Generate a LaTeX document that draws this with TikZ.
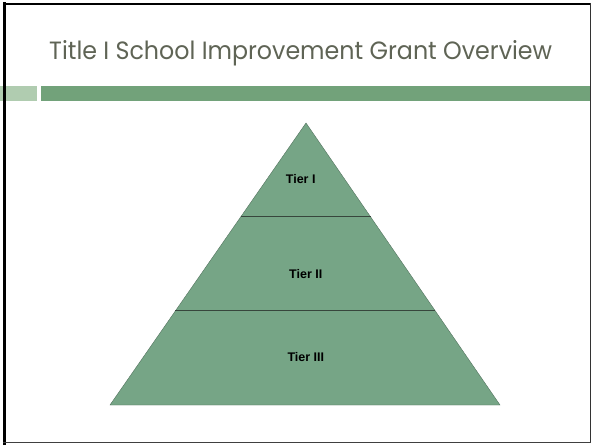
\documentclass[tikz,border=0pt]{standalone}
\usepackage{fontspec}
\usepackage{graphicx}
\newfontfamily\titlefont{Poppins}
\newfontfamily\tierfont{Liberation Sans}
\definecolor{titlegray}{RGB}{95,100,85}
\definecolor{bardark}{RGB}{114,162,122}
\definecolor{barlight}{RGB}{176,204,176}
\definecolor{pyrfill}{RGB}{118,165,134}
\definecolor{pyrline}{RGB}{55,70,60}
\tikzset{
  tierlabel/.style={anchor=base, inner sep=0pt, font=\tierfont\bfseries\fontsize{12.5}{14}\selectfont, text=black},
  titlelabel/.style={anchor=base west, inner sep=0pt, text=titlegray},
  divider/.style={draw=pyrline, line width=1pt}
}
\begin{document}
\begin{tikzpicture}[x=1pt,y=1pt]
\useasboundingbox (0,0) rectangle (592,445);
\fill[white] (0,0) rectangle (592,445);
% title
\node[titlelabel] (title) at (49,445-59.3) {\scalebox{0.95}[1]{\titlefont\fontsize{25}{29}\selectfont Title I School Improvement Grant Overview}};
% bar
\fill[barlight] (0,445-85.7) rectangle (36.7,445-100.7);
\fill[bardark] (41,445-85.7) rectangle (591,445-100.7);
% pyramid
\coordinate (apex) at (306,445-123);
\coordinate (bl) at (110,445-405);
\coordinate (br) at (500,445-405);
\coordinate (l1) at (240.7,445-217);
\coordinate (r1) at (370.7,445-217);
\coordinate (l2) at (175.3,445-311);
\coordinate (r2) at (435.4,445-311);
\fill[pyrfill, draw=pyrfill!70!black, line width=0.4pt] (apex) -- (bl) -- (br) -- cycle;
\draw[divider] (l1) -- (r1);
\draw[divider] (l2) -- (r2);
\node[tierlabel] (t1) at (300.7,445-184) {Tier I};
\node[tierlabel] (t2) at (305.8,445-278.5) {Tier II};
\node[tierlabel] (t3) at (305.8,445-361) {Tier III};
% frame
\draw[black, line width=3pt] (4.2,0) -- (4.2,445-2.5);
\draw[black, line width=2.2pt] (3,445-4.2) -- (591,445-4.2);
\draw[black!80, line width=1pt] (590.5,445-3) -- (590.5,445-443);
\draw[black!75, line width=1pt] (3,445-442.7) -- (591,445-442.7);
\end{tikzpicture}
\end{document}
